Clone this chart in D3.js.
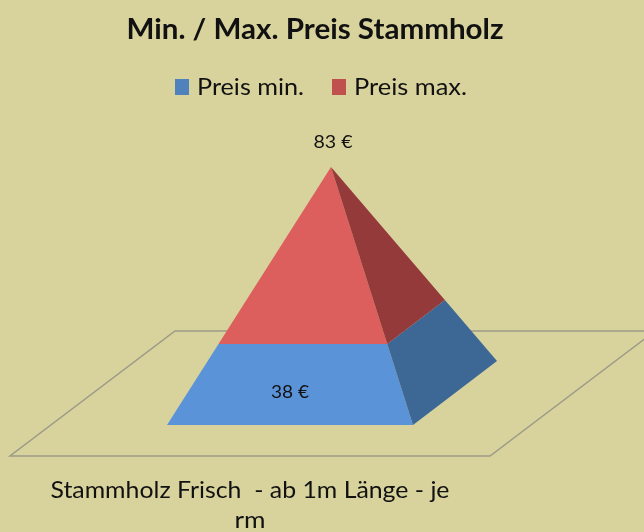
<!DOCTYPE html>
<html>
<head>
<meta charset="utf-8">
<script src="https://cdnjs.cloudflare.com/ajax/libs/d3/7.8.5/d3.min.js"></script>
<style>
  html, body { margin: 0; padding: 0; background: #d8d39c; }
  /* the reference is a slightly soft upscaled screenshot */
  svg { display: block; filter: blur(0.45px); }
  text { font-family: Lato, "Open Sans", sans-serif; fill: #111; }
</style>
</head>
<body>
<script>
// chart data
var categories = ["Stammholz Frisch  - ab 1m Länge - je rm"];
var seriesNames = ["Preis min.", "Preis max."];
var preisMin = [38];
var preisMax = [83];
var chartTitle = "Min. / Max. Preis Stammholz";

var width = 644, height = 532;

var svg = d3.select("body").append("svg")
    .attr("width", width)
    .attr("height", height);

// stack the two series on top of each other
var rows = categories.map(function(c, i) {
  return {category: c, "Preis min.": preisMin[i], "Preis max.": preisMax[i]};
});
var stacked = d3.stack().keys(seriesNames)(rows);

// 0 = pyramid base, total = apex
var total = d3.max(stacked[stacked.length - 1], function(d) { return d[1]; });
var t = d3.scaleLinear().domain([0, total]).range([0, 1]);

// the fake 3d projection, as Excel drew it
var apex = [331, 167],
    baseLeft = [167, 425],
    baseRight = [413, 425],
    baseBack = [497, 361];

function along(corner, value) {
  return d3.interpolate(corner, apex)(t(value));
}

var faces = [
  {a: baseLeft, b: baseRight, fills: ["#5b93d8", "#dc5f5d"]},
  {a: baseRight, b: baseBack, fills: ["#3d6795", "#953a3a"]}
];

var line = d3.line();

// floor of the 3d chart
var floor = [[10, 456], [490, 456], [655, 331], [175, 331]];
svg.append("path")
    .attr("d", line(floor) + "Z")
    .attr("fill", "none")
    .attr("stroke", "#9c9a88")
    .attr("stroke-width", 1.5);

// pyramid slices
faces.forEach(function(face) {
  stacked.forEach(function(s, i) {
    var d = s[0];
    svg.append("path")
        .attr("d", line([
          along(face.a, d[0]), along(face.b, d[0]),
          along(face.b, d[1]), along(face.a, d[1])
        ]) + "Z")
        .attr("fill", face.fills[i]);
  });
});

// all text is stretched a bit wider than the font, like the reference
function label(x, y, size, len, str, anchor) {
  return svg.append("text")
      .attr("x", x).attr("y", y)
      .attr("text-anchor", anchor || "middle")
      .attr("font-size", size)
      .attr("textLength", len)
      .attr("lengthAdjust", "spacingAndGlyphs")
      .style("white-space", "pre")
      .text(str);
}

// data labels
label(290, 398, 17, 38, preisMin[0] + " €");
label(333, 148, 17, 39, preisMax[0] + " €");

// title
label(315, 39, 28, 377, chartTitle).attr("font-weight", 700);

// legend
var legendX = [175, 332], legendColors = ["#4f81bd", "#c0504d"], legendLen = [107, 113];
seriesNames.forEach(function(name, i) {
  svg.append("rect")
      .attr("x", legendX[i]).attr("y", 79)
      .attr("width", 14)
      .attr("height", 16)
      .attr("fill", legendColors[i]);
  label(legendX[i] + 22, 95, 24, legendLen[i], name, "start");
});

// category label wrapped on two lines
var words = categories[0].split(" je ");
label(250, 498, 24, 399, words[0] + " je");
label(250, 528, 24, 31, words[1]);
</script>
</body>
</html>
